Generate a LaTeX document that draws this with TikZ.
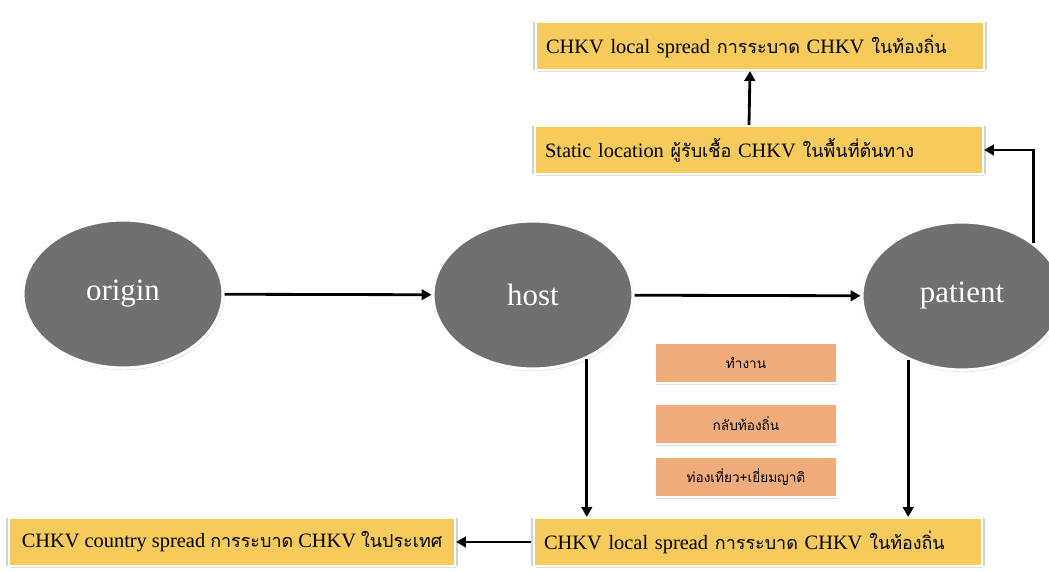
\documentclass[tikz,border=0pt]{standalone}
\usepackage{fontspec}
\setmainfont{Liberation Serif}
\newfontfamily\thaifont[Script=Thai,Scale=0.88]{Loma}
\newcommand{\thai}[1]{{\thaifont #1}}
\usetikzlibrary{arrows.meta,shapes.geometric,shadows}

\definecolor{bubblegray}{RGB}{112,112,112}
\definecolor{boxyellow}{RGB}{246,203,92}
\definecolor{boxorange}{RGB}{240,172,122}

\begin{document}
\begin{tikzpicture}[
  halo/.style={general shadow={shadow scale=1.015,fill=black,opacity=0.18},
    drop shadow={opacity=0.25,shadow xshift=0.8pt,shadow yshift=-1.5pt}},
  bubble/.style={ellipse,fill=bubblegray,draw=white,line width=2.2pt,
    minimum width=5cm,minimum height=3.7cm,text=white,
    font=\fontsize{22}{24}\selectfont,halo},
  yellowbox/.style={rectangle,fill=boxyellow,draw=white,line width=1.5pt,
    minimum height=1.2cm,font=\fontsize{14.5}{17}\selectfont,halo},
  spreadbox/.style={yellowbox,text width=10.7cm,inner xsep=0.25cm,align=left},
  countrybox/.style={yellowbox,minimum width=11.15cm},
  tripbox/.style={rectangle,fill=boxorange,draw=white,line width=1.5pt,
    minimum width=4.55cm,minimum height=1cm,
    font=\fontsize{11}{13}\selectfont,halo},
  arr/.style={line width=2pt,-{Triangle[length=7pt,width=7.5pt]}}
]
\useasboundingbox (0,0) rectangle (26.225,-14.3);

\node[bubble] (origin) at (3.075,-7.35) {origin};
\node[bubble] (host) at (13.325,-7.375) {host};
\node[bubble] (patient) at (24.05,-7.4) {patient};

\node[spreadbox] (toplocal) at (19.0,-1.15) {CHKV local spread \thai{การระบาด} CHKV \thai{ในท้องถิ่น}};
\node[spreadbox] (static) at (18.975,-3.75) {Static location \thai{ผู้รับเชื้อ} CHKV \thai{ในพื้นที่ต้นทาง}};
\node[spreadbox] (local) at (18.95,-13.55) {CHKV local spread \thai{การระบาด} CHKV \thai{ในท้องถิ่น}};
\node[countrybox] (country) at (5.8,-13.55) {CHKV country spread \thai{การระบาด} CHKV \thai{ในประเทศ}};

\node[tripbox] (work) at (18.65,-9.075) {\thai{ทำงาน}};
\node[tripbox] (home) at (18.65,-10.6) {\thai{กลับท้องถิ่น}};
\node[tripbox] (visit) at (18.65,-11.925) {\thai{ท่องเที่ยว+เยี่ยมญาติ}};

\draw[arr] (origin) -- (host);
\draw[arr] (host) -- (patient);
\draw[arr] (patient.north east) |- (static.east);
\draw[arr] ([xshift=-0.25cm]static.north) -- ([xshift=-0.25cm]toplocal.south);
\draw[arr] (host.-50) -- (host.-50 |- local.north);
\draw[arr] (patient.-130) -- (patient.-130 |- local.north);
\draw[arr] (local.west) ++(-0.05,0) -- (country.east);
\end{tikzpicture}
\end{document}
